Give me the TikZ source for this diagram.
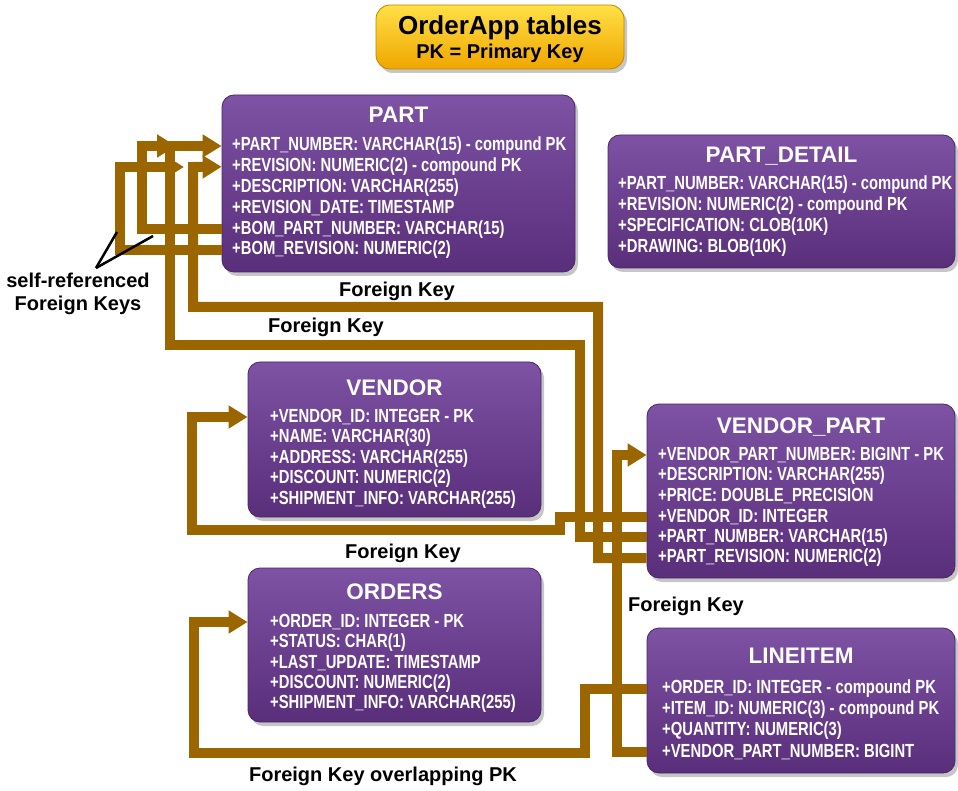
\documentclass[tikz,border=0pt]{standalone}
\usepackage{fontspec}
\setmainfont{Liberation Sans}
\newfontfamily\rowfont[FakeStretch=0.78]{Liberation Sans}
\usetikzlibrary{arrows.meta,shadows,calc}

\definecolor{tblpurple}{RGB}{99,51,136}
\definecolor{tbltop}{RGB}{126,82,164}
\definecolor{fkbrown}{RGB}{155,101,0}
\definecolor{bannertop}{RGB}{255,224,70}
\definecolor{bannerbot}{RGB}{240,166,0}

\tikzset{
  tbl/.style={draw=tblpurple!75!black, line width=0.8pt, rounded corners=12pt,
    top color=tbltop, middle color=tblpurple, bottom color=tblpurple!90!black,
    drop shadow={shadow xshift=3pt, shadow yshift=-4pt, opacity=0.45}, inner sep=0pt},
  banner/.style={draw=bannerbot!80!black, line width=0.8pt, rounded corners=14pt,
    top color=bannertop, bottom color=bannerbot,
    drop shadow={shadow xshift=3pt, shadow yshift=-4pt, opacity=0.45}, inner sep=0pt},
  tbltitle/.style={text=white, inner sep=0pt, font=\fontsize{22.5}{24}\selectfont\bfseries},
  rowtxt/.style={text=white, anchor=west, inner sep=0pt, font=\rowfont\fontsize{19}{21}\selectfont\bfseries},
  fk/.style={draw=fkbrown, line width=10pt},
  fkarrow/.style={fk, -{Triangle[length=19pt 0 0, width=22pt 0 0]}},
  lbl/.style={inner sep=0pt, font=\fontsize{20}{23}\selectfont\bfseries}
}

\begin{document}
\begin{tikzpicture}[x=1pt,y=-1pt]
    \useasboundingbox (0,0) rectangle (958,791);

    % title banner
    \node[banner, minimum width=248pt, minimum height=64pt] (head) at (500,37) {};
    \node[inner sep=0pt, font=\fontsize{26}{28}\selectfont\bfseries] (headA) at (500,28) {OrderApp tables};
    \node[inner sep=0pt, font=\fontsize{20}{22}\selectfont\bfseries] (headB) at (500,53) {PK = Primary Key};

    % tables
    \node[tbl, minimum width=353pt, minimum height=177pt] (part) at (398.5,183.5) {};
    \node[tbltitle] (part-t) at (398.5,115) {PART};
    \foreach \t [count=\i] in {+PART\_NUMBER: VARCHAR(15) - compund PK, +REVISION: NUMERIC(2) - compound PK,
        +DESCRIPTION: VARCHAR(255), +REVISION\_DATE: TIMESTAMP, +BOM\_PART\_NUMBER: VARCHAR(15),
        +BOM\_REVISION: NUMERIC(2)}
        {\node[rowtxt] (part-\i) at (232,{146+20.8*(\i-1)}) {\t};}

    \node[tbl, minimum width=347pt, minimum height=133pt] (detail) at (781.5,201.5) {};
    \node[tbltitle] (detail-t) at (781.5,156) {PART\_DETAIL};
    \foreach \t [count=\i] in {+PART\_NUMBER: VARCHAR(15) - compund PK, +REVISION: NUMERIC(2) - compound PK,
        +SPECIFICATION: CLOB(10K), +DRAWING: BLOB(10K)}
        {\node[rowtxt] (detail-\i) at (618,{185+21*(\i-1)}) {\t};}

    \node[tbl, minimum width=293pt, minimum height=155pt] (vendor) at (394.5,439.5) {};
    \node[tbltitle] (vendor-t) at (394.5,388) {VENDOR};
    \foreach \t [count=\i] in {+VENDOR\_ID: INTEGER - PK, +NAME: VARCHAR(30), +ADDRESS: VARCHAR(255),
        +DISCOUNT: NUMERIC(2), +SHIPMENT\_INFO: VARCHAR(255)}
        {\node[rowtxt] (vendor-\i) at (270,{417+20.6*(\i-1)}) {\t};}

    \node[tbl, minimum width=308pt, minimum height=174pt] (vp) at (801,491) {};
    \node[tbltitle] (vp-t) at (801,427) {VENDOR\_PART};
    \foreach \t [count=\i] in {+VENDOR\_PART\_NUMBER: BIGINT - PK, +DESCRIPTION: VARCHAR(255),
        +PRICE: DOUBLE\_PRECISION, +VENDOR\_ID: INTEGER, +PART\_NUMBER: VARCHAR(15),
        +PART\_REVISION: NUMERIC(2)}
        {\node[rowtxt] (vp-\i) at (658,{455+20.6*(\i-1)}) {\t};}

    \node[tbl, minimum width=293pt, minimum height=154pt] (orders) at (394.5,645) {};
    \node[tbltitle] (orders-t) at (394.5,592) {ORDERS};
    \foreach \t [count=\i] in {+ORDER\_ID: INTEGER - PK, +STATUS: CHAR(1), +LAST\_UPDATE: TIMESTAMP,
        +DISCOUNT: NUMERIC(2), +SHIPMENT\_INFO: VARCHAR(255)}
        {\node[rowtxt] (orders-\i) at (270,{622+20.5*(\i-1)}) {\t};}

    \node[tbl, minimum width=308pt, minimum height=145pt] (li) at (801,700.5) {};
    \node[tbltitle] (li-t) at (801,656) {LINEITEM};
    \foreach \t [count=\i] in {+ORDER\_ID: INTEGER - compound PK, +ITEM\_ID: NUMERIC(3) - compound PK,
        +QUANTITY: NUMERIC(3), +VENDOR\_PART\_NUMBER: BIGINT}
        {\node[rowtxt] (li-\i) at (662,{689+21*(\i-1)}) {\t};}

    % self-referenced keys of PART
    \coordinate (selfpn) at (176,146); \coordinate (selfrev) at (184,167);
    \draw[fkarrow] (part.west |- part-5) -| (142,146) -- (selfpn);
    \draw[fkarrow] (part.west |- part-6) -| (120,167) -- (selfrev);

    % VENDOR_PART -> PART, VENDOR
    \draw[fkarrow] (vp.west |- vp-5) -| (580,345) -| (170,146) -- (part.west |- part-1);
    \draw[fkarrow] (vp.west |- vp-6) -| (598,307) -| (193,167) -- (part.west |- part-2);
    \draw[fkarrow] (vp.west |- vp-4) -| (560,530) -| (192,417) -- (vendor.west |- vendor-1);

    % LINEITEM -> VENDOR_PART, ORDERS
    \draw[fkarrow] (li.west |- li-4) -| (617,455) -- (vp.west |- vp-1);
    \draw[fkarrow] (li.west |- li-1) -| (585,753) -| (194,622) -- (orders.west |- orders-1);

    \node[lbl] (fk1) at (397,291) {Foreign Key};
    \node[lbl] (fk2) at (326,327) {Foreign Key};
    \node[lbl] (fk3) at (403,553) {Foreign Key};
    \node[lbl] (fk4) at (686,606) {Foreign Key};
    \node[lbl] (fk5) at (383,776) {Foreign Key overlapping PK};
    \node[lbl, align=center] (self) at (78,294) {self-referenced\\Foreign Keys};

    \coordinate (ptr) at (96,268);
    \draw[line width=2.5pt] (ptr) -- (117,232);
    \draw[line width=2.5pt] (ptr) -- (153,236);
\end{tikzpicture}
\end{document}
